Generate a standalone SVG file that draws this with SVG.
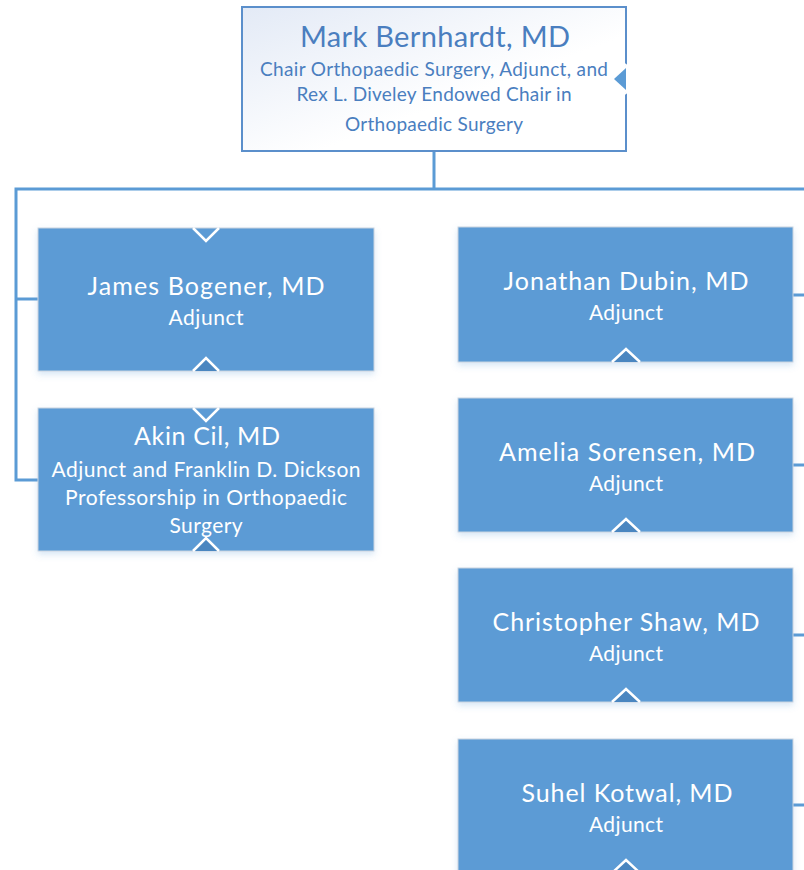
<svg xmlns="http://www.w3.org/2000/svg" width="804" height="870" viewBox="0 0 804 870">
<defs>
<linearGradient id="topGrad" x1="0" y1="0" x2="1" y2="1">
<stop offset="0" stop-color="#e3eaf6"/>
<stop offset="0.6" stop-color="#ffffff"/>
<stop offset="1" stop-color="#ffffff"/>
</linearGradient>
<filter id="shadow" x="-10%" y="-10%" width="120%" height="130%">
<feDropShadow dx="0" dy="3" stdDeviation="3" flood-color="#5b9bd5" flood-opacity="0.25"/>
</filter>
</defs>
<style>
.box{fill:#5b9bd5;stroke:#c9d4e0;stroke-width:1;filter:url(#shadow);}
.name{font-family:Lato,"Open Sans","Liberation Sans",sans-serif;font-size:25px;fill:#ffffff;text-anchor:middle;}
.sub{font-family:Lato,"Open Sans","Liberation Sans",sans-serif;font-size:21px;fill:#ffffff;text-anchor:middle;}
.tname{font-family:Lato,"Open Sans","Liberation Sans",sans-serif;font-size:29px;fill:#4a7ebf;text-anchor:middle;}
.tsub{font-family:Lato,"Open Sans","Liberation Sans",sans-serif;font-size:19px;fill:#4a7ebf;text-anchor:middle;}
.conn{fill:none;stroke:#5b9bd5;stroke-width:3;}
.notchT{fill:none;stroke:#ffffff;stroke-width:2.5;}
.notchB{fill:#4a86c0;stroke:#ffffff;stroke-width:2.5;}
</style>
<rect width="804" height="870" fill="#ffffff"/>

<g id="connectors">
<path class="conn" d="M434,151 V189"/>
<path class="conn" d="M804,189 H16 V480 H38"/>
<path class="conn" d="M16,299 H38"/>
<path class="conn" d="M793,295 H804"/>
<path class="conn" d="M793,465 H804"/>
<path class="conn" d="M793,635 H804"/>
<path class="conn" d="M793,805 H804"/>
</g>

<g id="mark-bernhardt">
<rect x="242" y="7" width="384" height="144" fill="url(#topGrad)" stroke="#5b8fcb" stroke-width="2"/>
<polygon points="627,64 610,79 627,94" fill="#ffffff"/>
<polygon points="626,68 614,79 626,90" fill="#5b9bd5"/>
<polyline points="626,64 611,79 626,94" fill="none" stroke="#ffffff" stroke-width="2"/>
<text class="tname" x="435" y="47" textLength="270">Mark Bernhardt, MD</text>
<text class="tsub" x="434" y="76" textLength="348">Chair Orthopaedic Surgery, Adjunct, and</text>
<text class="tsub" x="434" y="101" textLength="275">Rex L. Diveley Endowed Chair in</text>
<text class="tsub" x="434" y="131" textLength="178">Orthopaedic Surgery</text>
</g>

<g id="james-bogener">
<rect class="box" x="38" y="228" width="336" height="143"/>
<polyline class="notchT" points="193,228 206,241 219,228"/>
<path class="notchB" d="M193,371 L206,358 L219,371"/>
<text class="name" x="206" y="295" textLength="237">James Bogener, MD</text>
<text class="sub" x="206" y="325" textLength="75">Adjunct</text>
</g>

<g id="akin-cil">
<rect class="box" x="38" y="408" width="336" height="143"/>
<polyline class="notchT" points="193,408 206,421 219,408"/>
<path class="notchB" d="M193,551 L206,538 L219,551"/>
<text class="name" x="207" y="445" textLength="146">Akin Cil, MD</text>
<text class="sub" x="206" y="477" textLength="309">Adjunct and Franklin D. Dickson</text>
<text class="sub" x="206" y="505" textLength="282">Professorship in Orthopaedic</text>
<text class="sub" x="206" y="533" textLength="73">Surgery</text>
</g>

<g id="jonathan-dubin">
<rect class="box" x="458" y="227" width="335" height="135"/>
<path class="notchB" d="M612,362 L626,349 L640,362"/>
<text class="name" x="626" y="290" textLength="245">Jonathan Dubin, MD</text>
<text class="sub" x="626" y="320" textLength="74">Adjunct</text>
</g>

<g id="amelia-sorensen">
<rect class="box" x="458" y="398" width="335" height="134"/>
<path class="notchB" d="M612,532 L626,519 L640,532"/>
<text class="name" x="627" y="461" textLength="256">Amelia Sorensen, MD</text>
<text class="sub" x="626" y="491" textLength="74">Adjunct</text>
</g>

<g id="christopher-shaw">
<rect class="box" x="458" y="568" width="335" height="134"/>
<path class="notchB" d="M612,702 L626,689 L640,702"/>
<text class="name" x="626" y="631" textLength="267">Christopher Shaw, MD</text>
<text class="sub" x="626" y="661" textLength="74">Adjunct</text>
</g>

<g id="suhel-kotwal">
<rect class="box" x="458" y="739" width="335" height="145"/>
<path class="notchB" d="M612,873 L626,860 L640,873"/>
<text class="name" x="627" y="802" textLength="211">Suhel Kotwal, MD</text>
<text class="sub" x="626" y="832" textLength="74">Adjunct</text>
</g>
</svg>
